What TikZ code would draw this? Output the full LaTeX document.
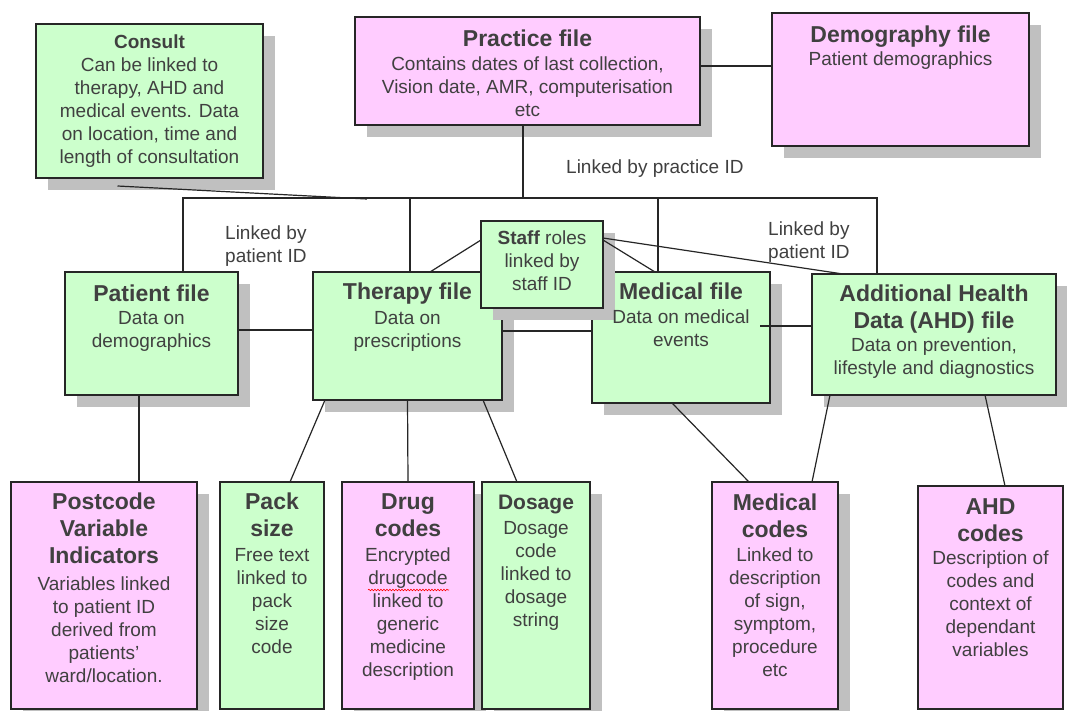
\documentclass[tikz,border=0pt]{standalone}
\usepackage{fontspec}
\setmainfont{Liberation Sans}
\usetikzlibrary{shadows,fit,decorations.pathmorphing}
\definecolor{gfill}{HTML}{CCFFCC}
\definecolor{pfill}{HTML}{FFCCFF}
\definecolor{shade}{HTML}{C0C0C0}
\definecolor{ink}{HTML}{404040}
\definecolor{edge}{HTML}{262626}
\newcommand{\ttl}[1]{{\fontsize{23}{23}\selectfont\bfseries #1}}
\newcommand{\ttm}[1]{{\fontsize{21}{21}\selectfont\bfseries #1}}
\begin{document}
\begin{tikzpicture}[x=1pt,y=-1pt,
  box/.style={draw=edge, line width=1.3pt, inner sep=0pt, outer sep=0pt},
  gbox/.style={box, fill=gfill},
  pbox/.style={box, fill=pfill},
  shad/.style={drop shadow={shadow xshift=12pt, shadow yshift=-12pt, fill=shade, opacity=1}},
  txt/.style={text=ink, align=center, inner sep=0pt, anchor=north, font=\fontsize{19}{23}\selectfont},
  lab/.style={text=ink, align=left, inner sep=0pt, anchor=west, font=\fontsize{19}{23}\selectfont},
  conn/.style={draw=edge, line width=1.2pt}]
\path[fill=white] (0,0) rectangle (1067,711);
\useasboundingbox (0,0) rectangle (1067,711);

% top row
\node[gbox, shad, fit={(36,24)(263,178)}] (consult) {};
\node[pbox, shad, fit={(355,17)(700,125)}] (practice) {};
\node[pbox, shad, fit={(772,13)(1029,146)}] (demography) {};
% middle row
\node[gbox, shad, fit={(65,272)(238,395)}] (patient) {};
\node[gbox, shad, fit={(313,272)(502,400)}] (therapy) {};
\node[gbox, shad, fit={(592,272)(770,403)}] (medical) {};
\node[gbox, shad, fit={(812,274)(1056,395)}] (ahd) {};
\node[gbox, shad, fit={(481,221)(603,308)}] (staff) {};
% bottom row
\node[pbox, shad, fit={(11,482)(197,709)}] (postcode) {};
\node[gbox, fit={(220,482)(324,709)}] (pack) {};
\node[pbox, shad, fit={(342,482)(474,709)}] (drug) {};
\node[gbox, shad, fit={(482,482)(590,709)}] (dosage) {};
\node[pbox, shad, fit={(712,482)(838,709)}] (medcodes) {};
\node[pbox, fit={(918,486)(1063,709)}] (ahdcodes) {};

% connectors
\coordinate (busL) at (183,198);
\coordinate (busR) at (877,198);
\coordinate (prJ) at (523,198);
\coordinate (thJ) at (410,198);
\coordinate (meJ) at (658,198);
\coordinate (coJ) at (367,199);
\coordinate (dl) at (0,66);
\coordinate (ptl) at (0,330);
\coordinate (tml) at (0,331);
\coordinate (mal) at (0,326);

\draw[conn] (busL |- patient.north) -- (busL) -- (busR) -- (busR |- ahd.north);
\draw[conn] (prJ |- practice.south) -- (prJ);
\draw[conn] (thJ) -- (thJ |- therapy.north);
\draw[conn] (meJ) -- (meJ |- medical.north);
\draw[conn] ([xshift=-32pt,yshift=-8pt]consult.south) -- (coJ);
\draw[conn] (practice.east |- dl) -- (demography.west |- dl);
\draw[conn] (patient.east |- ptl) -- (therapy.west |- ptl);
\draw[conn] (therapy.east |- tml) -- (medical.west |- tml);
\draw[conn] ([xshift=-10pt]medical.east |- mal) -- (ahd.west |- mal);
\draw[conn] ([yshift=-19pt]staff.north west) -- ([xshift=22.5pt]therapy.north);
\draw[conn] ([yshift=-19pt]staff.north east) -- ([xshift=-26pt]medical.north);
\draw[conn] ([yshift=-17pt]staff.north east) -- ([xshift=-91pt]ahd.north);
\draw[conn] ([xshift=-12.5pt]patient.south) -- ([xshift=35pt]postcode.north);
\draw[conn] ([xshift=-82.5pt]therapy.south) -- ([xshift=18pt]pack.north);
\draw[conn] (therapy.south) -- (drug.north);
\draw[conn] ([xshift=75.5pt]therapy.south) -- ([xshift=-19pt]dosage.north);
\draw[conn] ([xshift=-9pt]medical.south) -- ([xshift=-26pt]medcodes.north);
\draw[conn] ([xshift=-104pt]ahd.south) -- ([xshift=37pt]medcodes.north);
\draw[conn] ([xshift=51pt]ahd.south) -- ([xshift=14.5pt]ahdcodes.north);

% texts
\node[txt] (consultT) at ([yshift=-11pt]consult.north) {\textbf{Consult}\\Can be linked to\\therapy, AHD and\\medical events. Data\\on location, time and\\length of consultation};
\node[txt] (practiceT) at ([yshift=-13pt]practice.north) {\ttl{Practice file}\\[1pt]Contains dates of last collection,\\Vision date, AMR, computerisation\\etc};
\node[txt] (demographyT) at ([yshift=-13pt]demography.north) {\ttl{Demography file}\\Patient demographics};
\node[txt] (patientT) at ([yshift=-13pt]patient.north) {\ttl{Patient file}\\Data on\\demographics};
\node[txt] (therapyT) at ([yshift=-11pt]therapy.north) {\ttl{Therapy file}\\[2pt]Data on\\prescriptions};
\node[txt] (staffT) at ([yshift=-10pt]staff.north) {\textbf{Staff} roles\\linked by\\staff ID};
\node[txt] (medicalT) at ([yshift=-11pt]medical.north) {\ttl{Medical file}\\[1pt]Data on medical\\events};
\node[txt] (ahdT) at ([yshift=-11pt]ahd.north) {\ttl{Additional Health}\\[4pt]\ttl{Data (AHD) file}\\Data on prevention,\\lifestyle and diagnostics};
\node[txt] (postcodeT) at ([yshift=-11pt]postcode.north) {\ttl{Postcode}\\[4pt]\ttl{Variable}\\[4pt]\ttl{Indicators}\\[4pt]Variables linked\\to patient ID\\derived from\\patients’\\ward/location.};
\node[txt] (packT) at ([yshift=-11pt]pack.north) {\ttl{Pack}\\[4pt]\ttl{size}\\[2pt]Free text\\linked to\\pack\\size\\code};
\node[txt] (drugT) at ([yshift=-11.5pt]drug.north) {\ttl{Drug}\\[4pt]\ttl{codes}\\[2pt]Encrypted\\drugcode\\linked to\\generic\\medicine\\description};
\node[txt] (dosageT) at ([yshift=-13pt]dosage.north) {\ttm{Dosage}\\[2pt]Dosage\\code\\linked to\\dosage\\string};
\node[txt] (medcodesT) at ([yshift=-12pt]medcodes.north) {\ttl{Medical}\\[4pt]\ttl{codes}\\[1pt]Linked to\\description\\of sign,\\symptom,\\procedure\\etc};
\node[txt] (ahdcodesT) at ([yshift=-12.5pt]ahdcodes.north) {\ttl{AHD}\\[4pt]\ttl{codes}\\Description of\\codes and\\context of\\dependant\\variables};

\draw[red, line width=0.6pt, decorate, decoration={snake, amplitude=0.8pt, segment length=3pt}] (368,590) -- (449,590);

% link labels
\node[lab] (lpr) at (566,169) {Linked by practice ID};
\node[lab] (lpa1) at (225,246) {Linked by\\patient ID};
\node[lab] (lpa2) at (768,242) {Linked by\\patient ID};
\end{tikzpicture}
\end{document}
